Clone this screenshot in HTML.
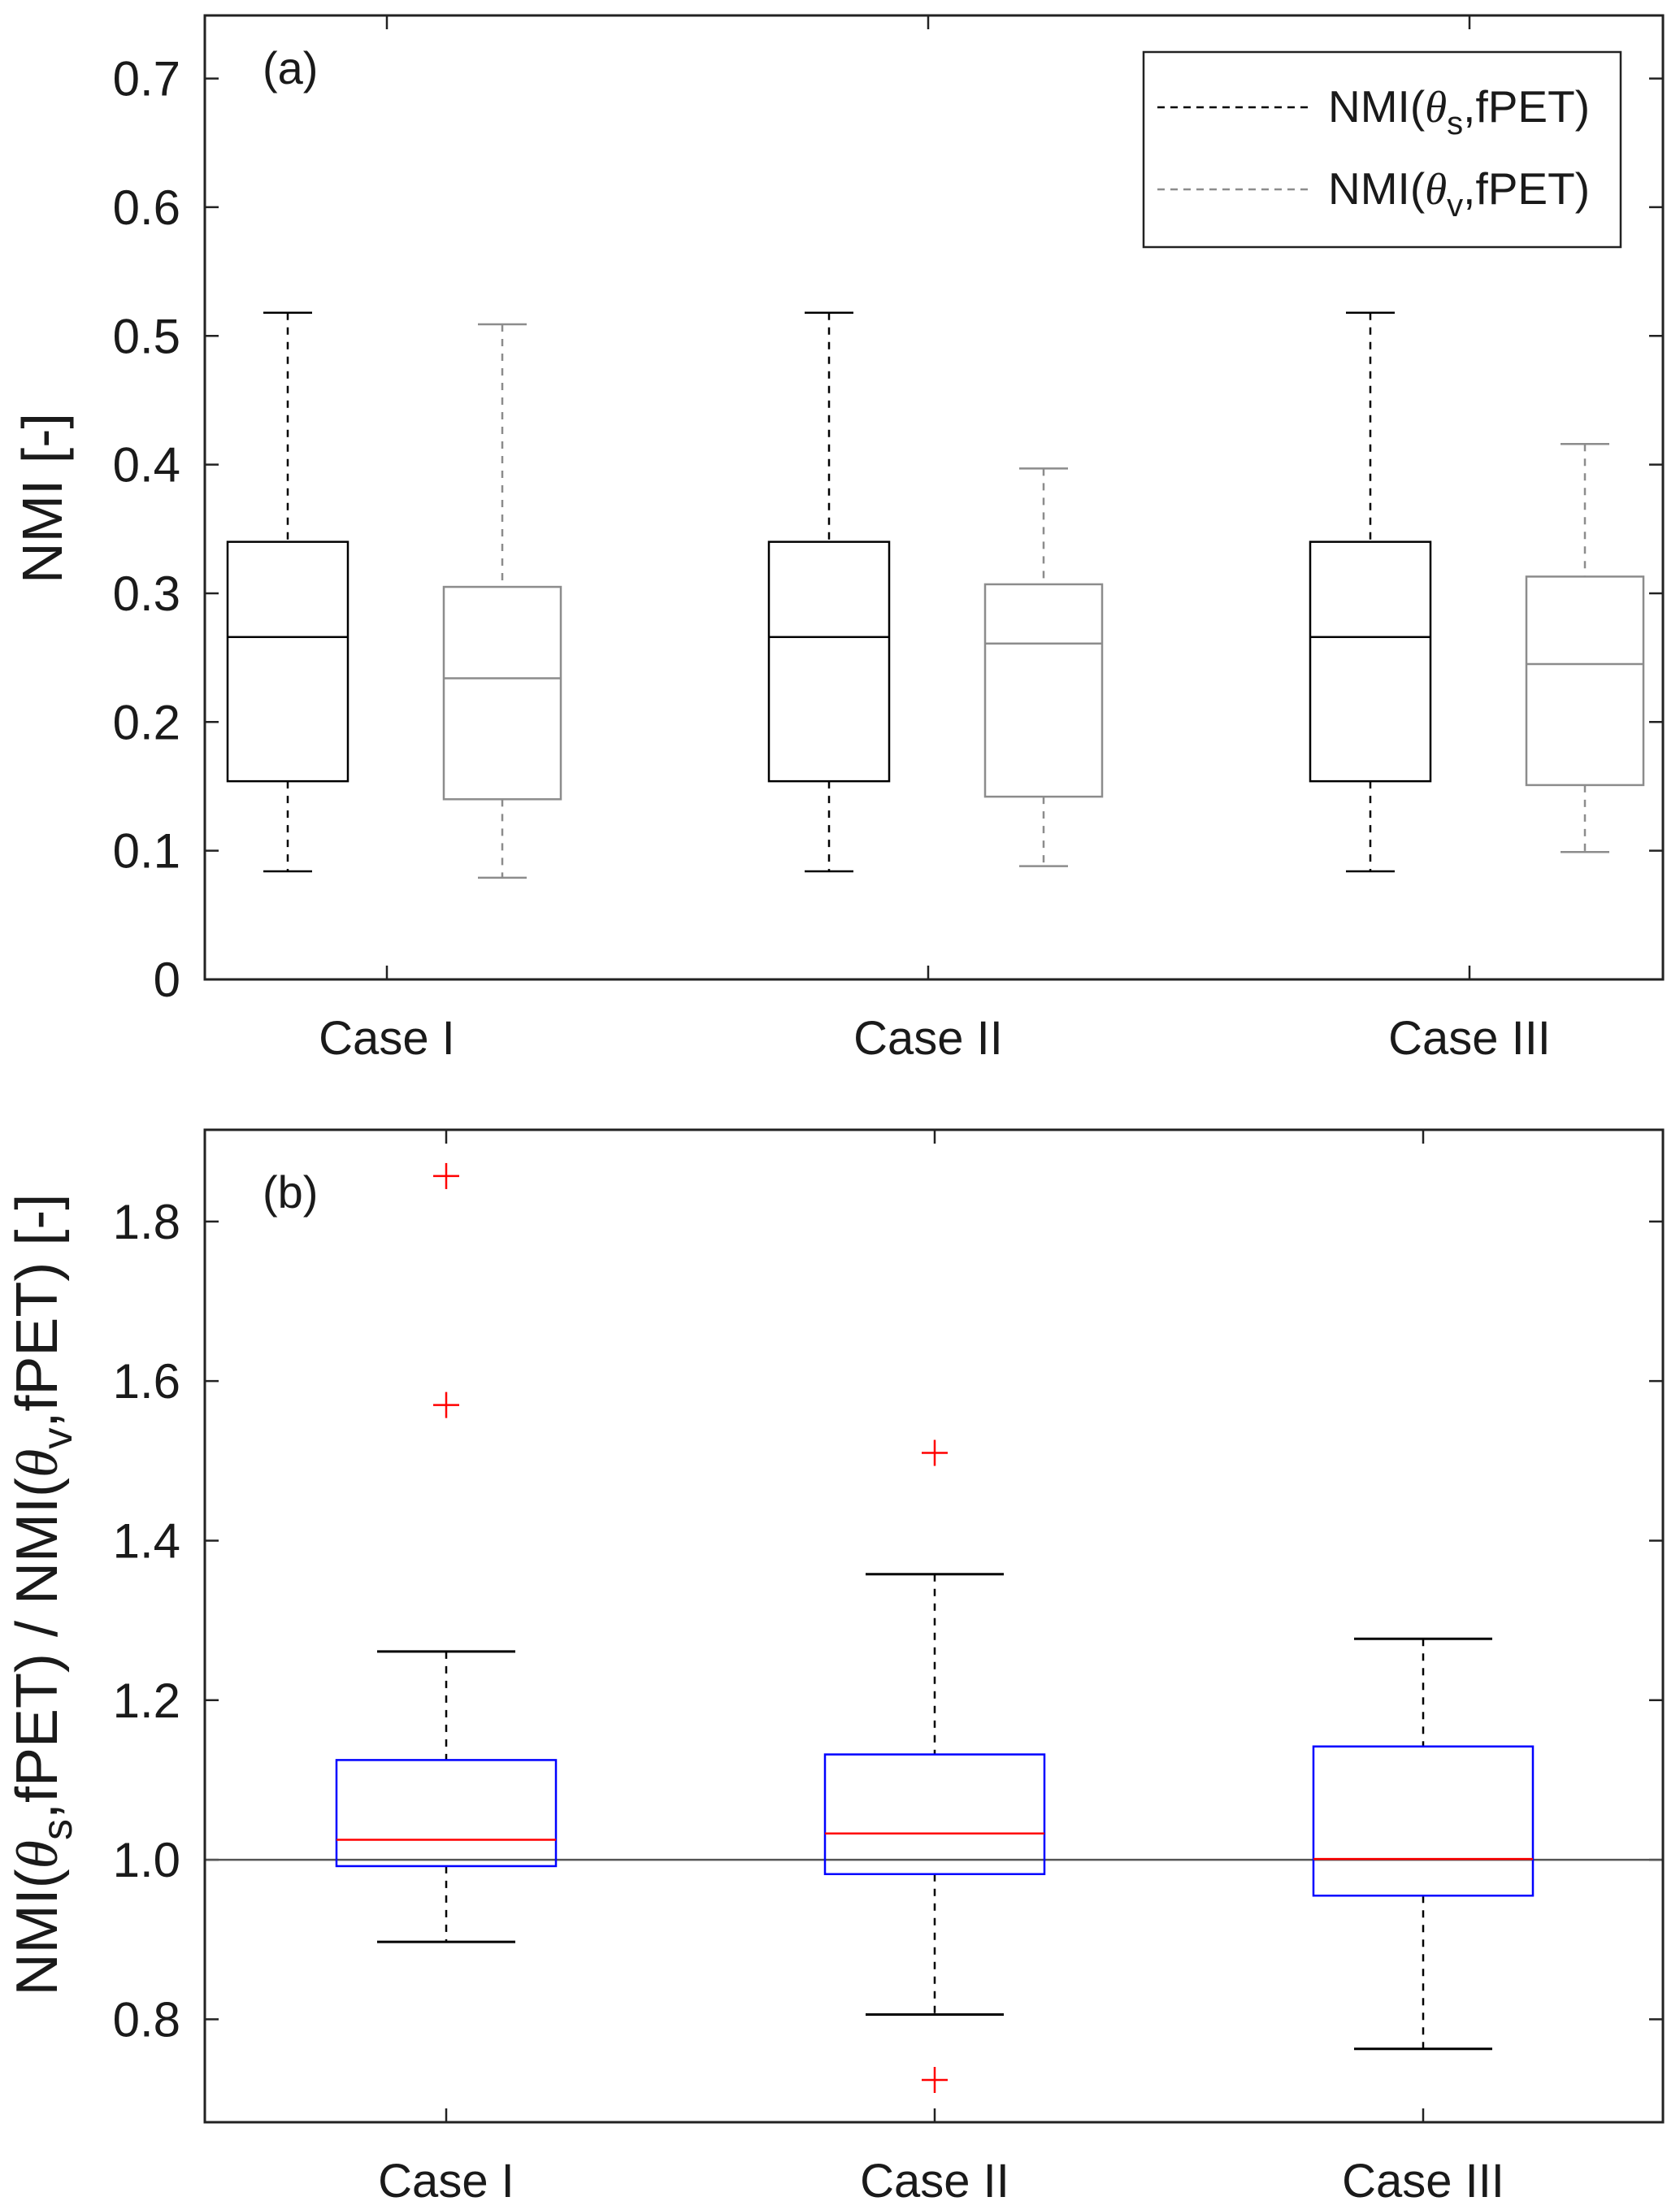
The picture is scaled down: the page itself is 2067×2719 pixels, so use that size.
<!DOCTYPE html>
<html><head><meta charset="utf-8"><style>
html,body{margin:0;padding:0;background:#fff;}
svg{display:block;font-family:"Liberation Sans",Arial,sans-serif;}
</style></head><body>
<svg id="chart" width="2067" height="2719" viewBox="0 0 2067 2719" xmlns="http://www.w3.org/2000/svg"></svg>
<script>
// Panel (a) data
const catsA = ["Case I","Case II","Case III"];
const blackHi = [0.518,0.518,0.518];
const blackQ3 = [0.340,0.340,0.340];
const blackMed = [0.266,0.266,0.266];
const blackQ1 = [0.154,0.154,0.154];
const blackLo = [0.084,0.084,0.084];
const grayHi = [0.509,0.397,0.416];
const grayQ3 = [0.305,0.307,0.313];
const grayMed = [0.234,0.261,0.245];
const grayQ1 = [0.140,0.142,0.151];
const grayLo = [0.079,0.088,0.099];
const ticksA = [0,0.1,0.2,0.3,0.4,0.5,0.6,0.7];
// Panel (b) data
const catsB = ["Case I","Case II","Case III"];
const ratioHi = [1.261,1.358,1.277];
const ratioQ3 = [1.125,1.132,1.142];
const ratioMed = [1.025,1.033,1.001];
const ratioQ1 = [0.992,0.982,0.955];
const ratioLo = [0.897,0.806,0.763];
const outCat = [0,0,1,1];
const outVal = [1.857,1.570,1.510,0.724];
const ticksB = [0.8,1.0,1.2,1.4,1.6,1.8];

const NS="http://www.w3.org/2000/svg";
const svg=document.getElementById('chart');
function el(tag,attrs,parent){const e=document.createElementNS(NS,tag);for(const k in attrs)e.setAttribute(k,attrs[k]);(parent||svg).appendChild(e);return e;}
function line(x1,y1,x2,y2,stroke,w,dash,name,p){const e=el('line',{x1,y1,x2,y2,stroke,'stroke-width':w},p);if(dash)e.setAttribute('stroke-dasharray',dash);


return e;}
function text(x,y,s,size,anchor,name,p){const e=el('text',{x,y,'font-size':size,'text-anchor':anchor||'middle',fill:'#1a1a1a'},p);e.textContent=s;


return e;}

// ---------- Panel A ----------
const A={l:252,r:2046,t:19,b:1205,ymin:0,ymax:0.749};
const yA=v=>A.b-(v-A.ymin)/(A.ymax-A.ymin)*(A.b-A.t);
const xA=i=>476+i*666;
const gA=el('g',{});


ticksA.forEach(t=>{const y=yA(t);
 line(A.l,y,A.l+17,y,'#222',2.5,null,'y-tick',gA);
 line(A.r,y,A.r-17,y,'#222',2.5,null,'y-tick-right',gA);
 text(222,y+21,t===0?'0':t.toFixed(1),60,'end','y-tick-label',gA);});
catsA.forEach((c,i)=>{const x=xA(i);
 line(x,A.b,x,A.b-17,'#222',2.5,null,'x-tick',gA);
 line(x,A.t,x,A.t+17,'#222',2.5,null,'x-tick-top',gA);
 text(x,1297,c,58,'middle','x-tick-label',gA);});
function boxA(i,cx,hw,cw,hi,q3,med,q1,lo,col,name){
 const g=el('g',{},gA);
 
 
 line(cx,yA(hi),cx,yA(q3),col,2.5,'9,9','upper-whisker',g);
 line(cx,yA(q1),cx,yA(lo),col,2.5,'9,9','lower-whisker',g);
 line(cx-cw,yA(hi),cx+cw,yA(hi),col,2.5,null,'upper-cap',g);
 line(cx-cw,yA(lo),cx+cw,yA(lo),col,2.5,null,'lower-cap',g);
 const r=el('rect',{x:cx-hw,y:yA(q3),width:2*hw,height:yA(q1)-yA(q3),fill:'none',stroke:col,'stroke-width':2.5},g);
 
 
 line(cx-hw,yA(med),cx+hw,yA(med),col,2.5,null,'median-line',g);
}
catsA.forEach((c,i)=>{
 boxA(i,xA(i)-122,74,30,blackHi[i],blackQ3[i],blackMed[i],blackQ1[i],blackLo[i],'#000','box-theta-s-'+(i+1));
 boxA(i,xA(i)+142,72,30,grayHi[i],grayQ3[i],grayMed[i],grayQ1[i],grayLo[i],'#8c8c8c','box-theta-v-'+(i+1));
});
const fa=el('rect',{x:A.l,y:A.t,width:A.r-A.l,height:A.b-A.t,fill:'none',stroke:'#222','stroke-width':3},gA);


text(323,103,'(a)',56,'start','panel-label-a',gA);
const yla=text(0,0,'NMI [-]',70,'middle','y-axis-title-a',gA);
yla.setAttribute('transform','translate(76,613) rotate(-90)');
// legend
const lg=el('g',{},gA);


const lr=el('rect',{x:1407,y:64,width:587,height:240,fill:'#fff',stroke:'#222','stroke-width':2.5},lg);


line(1424,132,1612,132,'#000',2.5,'9,7','legend-line-theta-s',lg);
line(1424,233,1612,233,'#8c8c8c',2.5,'9,7','legend-line-theta-v',lg);
function legText(y,sub,name){const t=el('text',{x:1634,y:y,'font-size':55,fill:'#1a1a1a'},lg);
 t.innerHTML='NMI(<tspan font-family="Liberation Serif" font-style="italic">θ</tspan><tspan font-size="40" dy="15">'+sub+'</tspan><tspan dy="-15">,fPET)</tspan>';
 
 }
legText(150,'s','legend-entry-theta-s');
legText(251,'v','legend-entry-theta-v');

// ---------- Panel B ----------
const B={l:252,r:2046,t:1390,b:2611,ymin:0.671,ymax:1.915};
const yB=v=>B.b-(v-B.ymin)/(B.ymax-B.ymin)*(B.b-B.t);
const xB=i=>549+i*601;
const gB=el('g',{});


ticksB.forEach(t=>{const y=yB(t);
 line(B.l,y,B.l+17,y,'#222',2.5,null,'y-tick',gB);
 line(B.r,y,B.r-17,y,'#222',2.5,null,'y-tick-right',gB);
 text(222,y+21,t.toFixed(1),60,'end','y-tick-label',gB);});
line(B.l,yB(1.0),B.r,yB(1.0),'#555',2.5,null,'reference-line-1',gB);
catsB.forEach((c,i)=>{const x=xB(i);
 line(x,B.b,x,B.b-17,'#222',2.5,null,'x-tick',gB);
 line(x,B.t,x,B.t+17,'#222',2.5,null,'x-tick-top',gB);
 text(x,2703,c,58,'middle','x-tick-label',gB);
 const g=el('g',{},gB);
 
 
 line(x,yB(ratioHi[i]),x,yB(ratioQ3[i]),'#000',2.5,'9,9','upper-whisker',g);
 line(x,yB(ratioQ1[i]),x,yB(ratioLo[i]),'#000',2.5,'9,9','lower-whisker',g);
 line(x-85,yB(ratioHi[i]),x+85,yB(ratioHi[i]),'#000',3,null,'upper-cap',g);
 line(x-85,yB(ratioLo[i]),x+85,yB(ratioLo[i]),'#000',3,null,'lower-cap',g);
 const r=el('rect',{x:x-135,y:yB(ratioQ3[i]),width:270,height:yB(ratioQ1[i])-yB(ratioQ3[i]),fill:'none',stroke:'#0000ff','stroke-width':2.5},g);
 
 
 line(x-135,yB(ratioMed[i]),x+135,yB(ratioMed[i]),'#ff0000',2.5,null,'median-line',g);
});
outVal.forEach((v,k)=>{const x=xB(outCat[k]),y=yB(v);
 const g=el('g',{},gB);
 
 
 line(x-16,y,x+16,y,'#ff0000',2.5,null,'outlier-h',g);
 line(x,y-16,x,y+16,'#ff0000',2.5,null,'outlier-v',g);});
const fb=el('rect',{x:B.l,y:B.t,width:B.r-B.l,height:B.b-B.t,fill:'none',stroke:'#222','stroke-width':3},gB);


text(323,1486,'(b)',56,'start','panel-label-b',gB);
const ylb=el('text',{'font-size':72,'text-anchor':'middle',fill:'#1a1a1a',transform:'translate(70,1962) rotate(-90)'},gB);
ylb.innerHTML='NMI(<tspan font-family="Liberation Serif" font-style="italic">θ</tspan><tspan font-size="52" dy="18">s</tspan><tspan dy="-18">,fPET) / NMI(</tspan><tspan font-family="Liberation Serif" font-style="italic">θ</tspan><tspan font-size="52" dy="18">v</tspan><tspan dy="-18">,fPET) [-]</tspan>';


</script>
</body></html>
